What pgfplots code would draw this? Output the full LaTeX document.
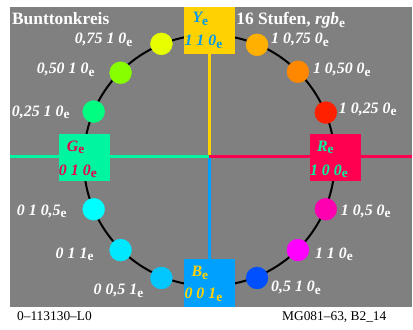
\documentclass[border=0pt]{standalone}
\usepackage{fontspec}
\setmainfont{Liberation Serif}
\usepackage{pgfplots}
\pgfplotsset{compat=1.18}
\definecolor{bg}{HTML}{808080}
\definecolor{ycol}{HTML}{FFD200}
\definecolor{bcol}{HTML}{00A0FF}
\definecolor{gcol}{HTML}{00F5A0}
\definecolor{rcol}{HTML}{FF0050}
\definecolor{ytext}{HTML}{0099F0}
\definecolor{gtext}{HTML}{E8004F}
\definecolor{c1}{HTML}{E8FF00}
\definecolor{c2}{HTML}{88FF00}
\definecolor{c3}{HTML}{00FF80}
\definecolor{c4}{HTML}{00FFFF}
\definecolor{c5}{HTML}{00E8FF}
\definecolor{c6}{HTML}{00C8FF}
\definecolor{c7}{HTML}{0050FF}
\definecolor{c8}{HTML}{FF00FF}
\definecolor{c9}{HTML}{FF00B0}
\definecolor{c10}{HTML}{FF2000}
\definecolor{c11}{HTML}{FF8800}
\definecolor{c12}{HTML}{FFB000}
\newcommand\e{\raisebox{-0.15em}{\upshape\bfseries\fontsize{13.5}{13.5}\selectfont e}}
\tikzset{lab/.style={inner sep=0pt, text=white, font=\fontsize{16}{16}\selectfont\bfseries\itshape},
  boxt/.style={inner sep=0pt, font=\fontsize{16}{16}\selectfont\bfseries\itshape}}
\begin{document}
\begin{tikzpicture}
\begin{axis}[width=413bp,height=331bp,scale only axis,
  xmin=0,xmax=413,ymin=0,ymax=331,y dir=reverse,hide axis,clip=false]
\path[fill=white] (axis cs:0,0) rectangle (axis cs:413,331);
\fill[bg] (axis cs:10,7) rectangle (axis cs:413,308);
\draw[black,line width=2bp] (axis cs:210,161) circle[radius=126];
\addplot[ycol, line width=3bp] coordinates {(210,54) (210,157)};
\addplot[bcol, line width=3bp] coordinates {(210,157) (210,260)};
\addplot[gcol, line width=3bp] coordinates {(10,157) (210,157)};
\addplot[rcol, line width=3bp] coordinates {(210,157) (413,157)};
\fill[ycol] (axis cs:185,7) rectangle (axis cs:236,54);
\fill[gcol] (axis cs:59,134) rectangle (axis cs:110,182);
\fill[rcol] (axis cs:311,134) rectangle (axis cs:362,182);
\fill[bcol] (axis cs:185,260) rectangle (axis cs:236,308);
\addplot[scatter, only marks, mark=*, mark size=11bp, point meta=explicit symbolic,
  scatter/classes={
    a={mark=*,fill=c1,draw=c1}, b={mark=*,fill=c2,draw=c2}, c={mark=*,fill=c3,draw=c3},
    d={mark=*,fill=c4,draw=c4}, e={mark=*,fill=c5,draw=c5}, f={mark=*,fill=c6,draw=c6},
    g={mark=*,fill=c7,draw=c7}, h={mark=*,fill=c8,draw=c8}, i={mark=*,fill=c9,draw=c9},
    j={mark=*,fill=c10,draw=c10}, k={mark=*,fill=c11,draw=c11}, l={mark=*,fill=c12,draw=c12}}]
  table[meta=c] {
x y c
162 44 a
121 73 b
94 112 c
94 210 d
121 251 e
162 279 f
258 279 g
299 251 h
327 210 i
327 113 j
299 72 k
258 45 l
};
% titles
\node[anchor=base west, inner sep=0pt, text=white, font=\fontsize{17.5}{17.5}\selectfont\bfseries] at (axis cs:12,25) {Bunttonkreis};
\node[anchor=base west, inner sep=0pt, text=white, font=\fontsize{17.5}{17.5}\selectfont\bfseries] at (axis cs:237,25) {16 Stufen, \textit{rgb}\e};
% dot labels
\node[lab, anchor=base east] at (axis cs:133,44) {0,75 1 0\e};
\node[lab, anchor=base east] at (axis cs:95,74) {0,50 1 0\e};
\node[lab, anchor=base east] at (axis cs:70,117) {0,25 1 0\e};
\node[lab, anchor=base east] at (axis cs:67,216) {0 1 0,5\e};
\node[lab, anchor=base east] at (axis cs:94,259) {0 1 1\e};
\node[lab, anchor=base east] at (axis cs:144,296) {0 0,5 1\e};
\node[lab, anchor=base west] at (axis cs:272,44) {1 0,75 0\e};
\node[lab, anchor=base west] at (axis cs:314,74) {1 0,50 0\e};
\node[lab, anchor=base west] at (axis cs:340,114) {1 0,25 0\e};
\node[lab, anchor=base west] at (axis cs:342,216) {1 0,5 0\e};
\node[lab, anchor=base west] at (axis cs:316,259) {1 1 0\e};
\node[lab, anchor=base west] at (axis cs:272,293) {0,5 1 0\e};
% box labels
\node[boxt, text=ytext, anchor=base west] at (axis cs:193,23) {Y\e};
\node[boxt, text=ytext, anchor=base west] at (axis cs:185,46) {1 1 0\e};
\node[boxt, text=gtext, anchor=base west] at (axis cs:67,152) {G\e};
\node[boxt, text=gtext, anchor=base west] at (axis cs:59,176) {0 1 0\e};
\node[boxt, text=gcol, anchor=base west] at (axis cs:318,152) {R\e};
\node[boxt, text=gcol, anchor=base west] at (axis cs:311,176) {1 0 0\e};
\node[boxt, text=ycol, anchor=base west] at (axis cs:192,278) {B\e};
\node[boxt, text=ycol, anchor=base west] at (axis cs:185,300) {0 0 1\e};
% footer
\node[anchor=base west, inner sep=0pt, font=\fontsize{13.5}{13.5}\selectfont] at (axis cs:17,322) {0--113130--L0};
\node[anchor=base east, inner sep=0pt, font=\fontsize{13.5}{13.5}\selectfont] at (axis cs:388,322) {MG081--63, B2\_14};
\end{axis}
\end{tikzpicture}
\end{document}
